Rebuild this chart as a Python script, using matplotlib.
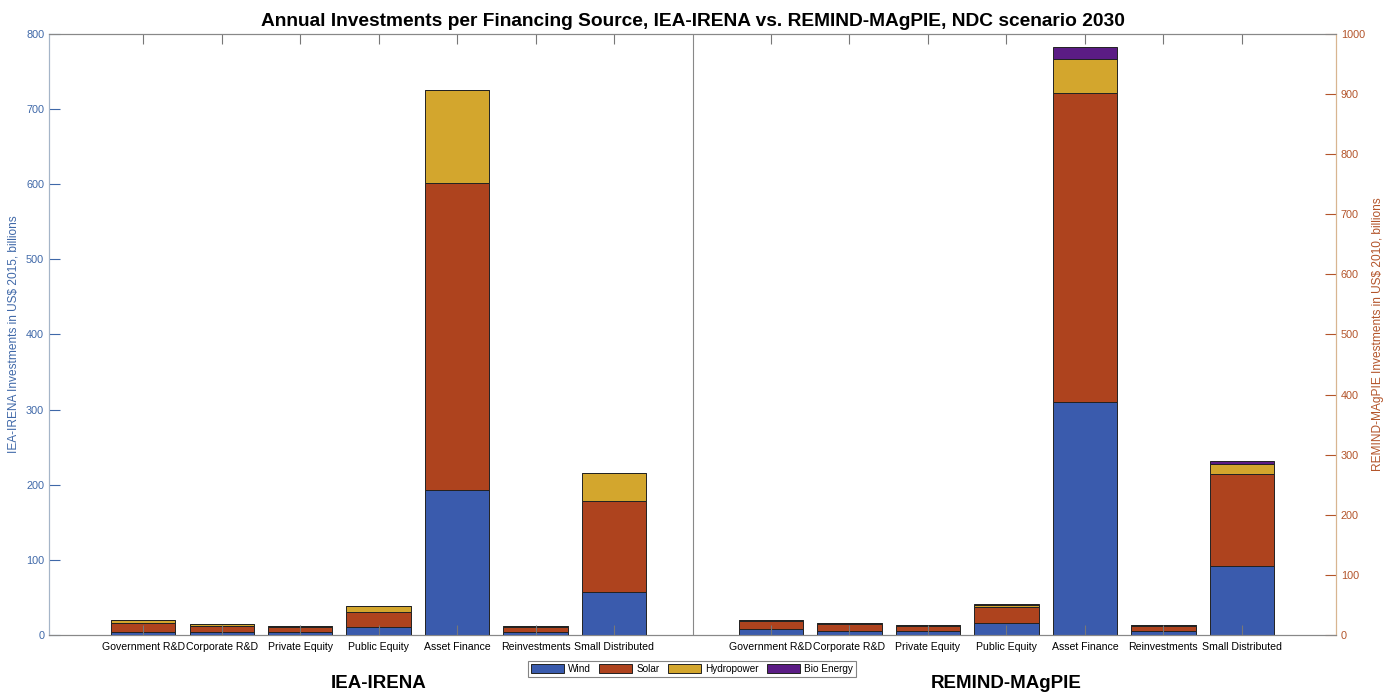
import numpy as np
import matplotlib
matplotlib.use('Agg')
from matplotlib import pyplot as plt

plt.rcParams['font.family'] = ['Liberation Sans', 'DejaVu Sans']

# データ
categories = ['Government R&D', 'Corporate R&D', 'Private Equity', 'Public Equity',
              'Asset Finance', 'Reinvestments', 'Small Distributed']
sources = ['Wind', 'Solar', 'Hydropower', 'Bio Energy']

# IEA-IRENA (US$ 2015, billions)
iea_wind = [4.5, 4.5, 3.5, 10, 193, 3.5, 57]
iea_solar = [11, 7, 6.5, 21, 409, 6.5, 121]
iea_hydro = [4, 3.5, 2.5, 7, 124, 2, 38]
iea_bio = [0, 0, 0, 0, 0, 0, 0]

# REMIND-MAgPIE (US$ 2010, billions)
rm_wind = [10, 7, 6.5, 20, 388, 7, 115]
rm_solar = [14, 12, 9, 27, 514, 8.5, 153]
rm_hydro = [0.7, 0.5, 0.4, 3, 56, 0.5, 17]
rm_bio = [0.8, 0.6, 0.6, 1.5, 20, 0.8, 5]

colors = ['#3A5BAD', '#AE431E', '#D3A62D', '#5B1C85']
left_col = '#3F68A8'
right_col = '#B3542A'

pos_iea = np.arange(1, 8)
pos_rm = np.arange(9, 16)

fig = plt.figure(figsize=(13.94, 6.93), dpi=100)
ax = fig.add_axes([0.0352, 0.0837, 0.9232, 0.8673])
ax2 = ax.twinx()

# 左軸を前面に (目盛り線をバーの上に描くため)
ax.set_zorder(2)
ax.patch.set_visible(False)
ax2.set_zorder(1)

def stack(axis, pos, series):
    bottom = np.zeros(len(pos))
    handles = []
    for vals, c in zip(series, colors):
        h = axis.bar(pos, vals, 0.82, bottom=bottom, color=c,
                     edgecolor='#222222', linewidth=0.7)
        handles.append(h)
        bottom = bottom + np.array(vals)
    return handles

stack(ax, pos_iea, [iea_wind, iea_solar, iea_hydro, iea_bio])
handles = stack(ax2, pos_rm, [rm_wind, rm_solar, rm_hydro, rm_bio])

ax.set_xlim(-0.2, 16.2)
ax.set_ylim(0, 800)
ax2.set_ylim(0, 1000)
ax.set_yticks(np.arange(0, 801, 100))
ax2.set_yticks(np.arange(0, 1001, 100))

ax.set_xticks(list(pos_iea) + list(pos_rm))
ax.set_xticklabels(categories + categories, fontsize=7.6)
ax.tick_params(axis='x', direction='in', top=True, length=7.5, width=0.8,
               color='#777777', pad=5)
ax.tick_params(axis='y', direction='in', length=8, width=0.8,
               color=left_col, labelcolor=left_col, labelsize=7.8)
ax2.tick_params(axis='y', direction='in', length=8, width=0.8,
                color=right_col, labelcolor=right_col, labelsize=7.8)

for a in (ax, ax2):
    a.spines['top'].set_color('#888888')
    a.spines['bottom'].set_color('#888888')
    a.spines['left'].set_color('#A5B5C8')
    a.spines['right'].set_color('#D8B590')

ax.axvline(8, color='#888888', linewidth=0.8)

ax.set_ylabel('IEA-IRENA Investments in US$ 2015, billions', color=left_col,
              fontsize=8.6, labelpad=5)
ax2.set_ylabel('REMIND-MAgPIE Investments in US$ 2010, billions', color=right_col,
               fontsize=8.6, labelpad=5)

ax.set_title('Annual Investments per Financing Source, IEA-IRENA vs. REMIND-MAgPIE, NDC scenario 2030',
             fontsize=13.8, fontweight='bold', pad=6)

trans = ax.get_xaxis_transform()
ax.text(4, -0.08, 'IEA-IRENA', transform=trans, ha='center', va='center',
        fontsize=13.5, fontweight='bold')
ax.text(12, -0.08, 'REMIND-MAgPIE', transform=trans, ha='center', va='center',
        fontsize=13.5, fontweight='bold')

leg = fig.legend(handles, sources, loc='center', bbox_to_anchor=(0.4964, 0.0346),
                 ncol=4, fontsize=7.2, handlelength=3.3, handleheight=1.0,
                 frameon=True, fancybox=False, edgecolor='#666666',
                 borderpad=0.3, columnspacing=0.8, handletextpad=0.45)
leg.get_frame().set_linewidth(0.8)

fig.savefig('out.png', dpi=100)
